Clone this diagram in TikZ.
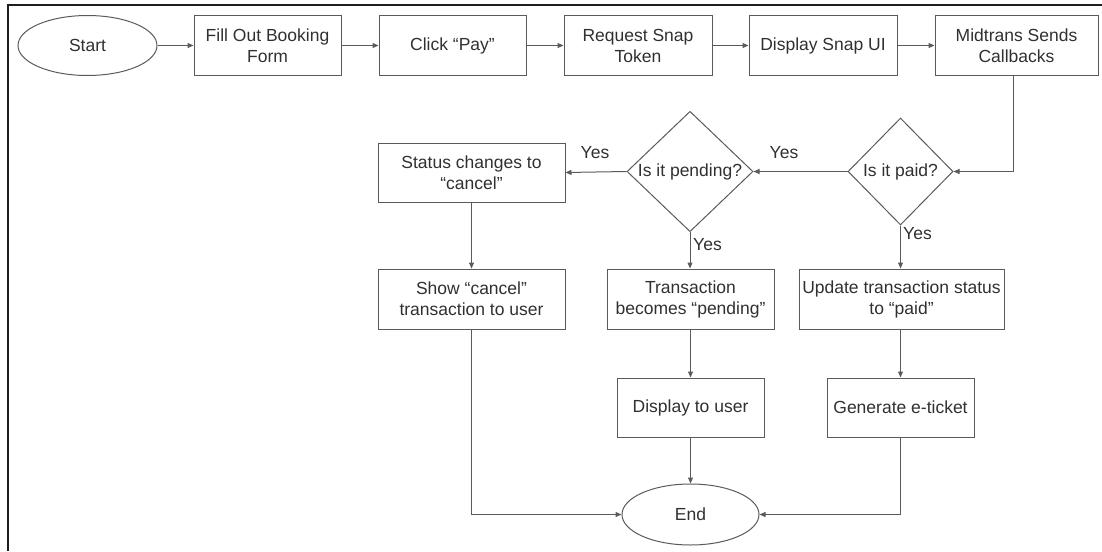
\documentclass[tikz,border=0pt]{standalone}
\usepackage{fontspec}
\setmainfont{Liberation Sans}
\usetikzlibrary{shapes.geometric,arrows.meta}

\definecolor{linegray}{HTML}{5A5A5A}
\definecolor{textgray}{HTML}{303030}
\definecolor{framegray}{HTML}{1E1E1E}

\tikzset{
  base/.style={draw=linegray, line width=1pt, text=textgray, align=center,
    font=\fontsize{17.5}{21}\selectfont, inner sep=0pt},
  procbox/.style={base, rectangle, minimum height=59pt},
  terminal/.style={base, ellipse, minimum width=137pt, minimum height=60pt},
  decision/.style={base, diamond},
  flow/.style={draw=linegray, line width=1pt,
    -{Triangle[length=6pt,width=5pt]}},
  yeslabel/.style={text=textgray, font=\fontsize{17.5}{21}\selectfont, inner sep=0pt},
}

\begin{document}
\begin{tikzpicture}[x=1pt,y=-1pt]
  \useasboundingbox (0,0) rectangle (1102,551);
  % outer frame (top and left edges only)
  \draw[framegray, line width=2pt] (8,551) -- (8,5.5) -- (1102,5.5);

  % top row
  \node[terminal, minimum width=139pt] (start) at (87.5,45.5) {Start};
  \node[procbox, minimum width=147pt] (fill) at (267.5,45.5) {Fill Out Booking\\Form};
  \node[procbox, minimum width=147pt] (pay) at (452.5,45.5) {Click “Pay”};
  \node[procbox, minimum width=148pt] (req) at (638,45.5) {Request Snap\\Token};
  \node[procbox, minimum width=148pt] (snap) at (823,45.5) {Display Snap UI};
  \node[procbox, minimum width=163pt] (mid) at (1016.5,45.5) {Midtrans Sends\\Callbacks};
  \coordinate (cb) at ([xshift=-3pt]mid.south);

  % decisions
  \node[decision, minimum width=105pt, minimum height=107pt] (paid) at (900.5,171.5) {Is it paid?};
  \node[decision, minimum width=126pt, minimum height=117pt] (pend) at (690,171.5) {Is it pending?};

  % left branch
  \node[procbox, minimum width=187pt] (status) at (471.5,172.5) {Status changes to\\“cancel”};
  \node[procbox, minimum width=187pt, minimum height=60pt] (show) at (471.5,299) {Show “cancel”\\transaction to user};

  % middle branch
  \node[procbox, minimum width=167pt, minimum height=60pt] (trans) at (690.5,299) {Transaction\\becomes “pending”};
  \node[procbox, minimum width=147pt] (disp) at (690.5,407.5) {Display to user};

  % right branch
  \node[procbox, minimum width=205pt, minimum height=60pt] (upd) at (901.5,299) {Update transaction status\\to “paid”};
  \node[procbox, minimum width=147pt] (gen) at (900.5,407.5) {Generate e-ticket};

  \node[terminal, minimum height=61pt] (end) at (690.5,514.5) {End};

  % connectors
  \draw[flow] (start) -- (fill);
  \draw[flow] (fill) -- (pay);
  \draw[flow] (pay) -- (req);
  \draw[flow] (req) -- (snap);
  \draw[flow] (snap) -- (mid);
  \draw[flow] (cb) |- (paid.east);
  \draw[flow] (paid.west) -- (pend.east);
  \draw[flow] (pend.west) -- (status.east);
  \draw[flow] (status) -- (show);
  \draw[flow] (pend.south) -- (pend.south |- trans.north);
  \draw[flow] (paid.south) -- (paid.south |- upd.north);
  \draw[flow] (trans) -- (disp);
  \draw[flow] (upd.south -| gen.north) -- (gen.north);
  \draw[flow] (disp) -- (end);
  \draw[flow] (show.south) |- (end.west);
  \draw[flow] (gen.south) |- (end.east);

  % branch labels
  \node[yeslabel] (y1) at (784,153) {Yes};
  \node[yeslabel] (y2) at (595,153) {Yes};
  \node[yeslabel, anchor=west] (y3) at (693,245) {Yes};
  \node[yeslabel, anchor=west] (y4) at (903,234) {Yes};
\end{tikzpicture}
\end{document}
